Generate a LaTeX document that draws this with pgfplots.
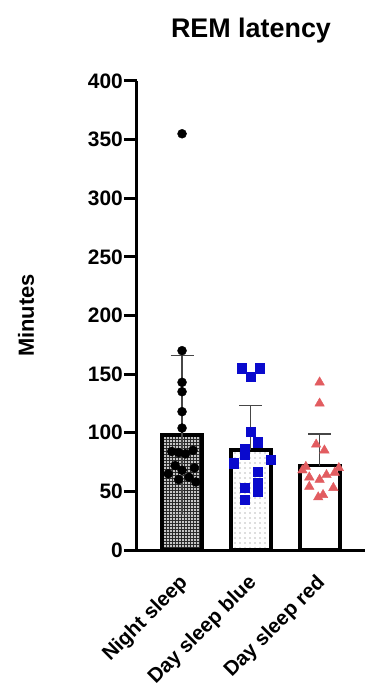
\documentclass[border=0pt]{standalone}
\usepackage{pgfplots}
\pgfplotsset{compat=1.18}
\usetikzlibrary{patterns.meta}
\usepackage{fontspec}
\setmainfont{Liberation Sans}

\definecolor{dotblue}{RGB}{10,10,205}
\definecolor{trired}{RGB}{226,92,96}
\definecolor{errgray}{RGB}{70,70,70}

% individual values per group (x offset gives the jitter around each bar)
\pgfplotstableread{
x y
0.00 355
0.00 170
0.00 143
0.00 135
0.00 118
0.00 104
-0.15 84
-0.05 83
0.05 82
0.16 85
-0.10 72
0.18 70
0.00 68
-0.20 65
0.10 62
-0.05 60
0.20 58
}\nightdata

\pgfplotstableread{
x y
0.87 155
1.13 155
1.00 148
1.00 101
1.10 92
0.91 86
0.91 81
0.75 74
1.29 77
1.10 67
1.10 57
0.91 53
1.10 50
0.91 43
}\bluedata

\pgfplotstableread{
x y
2.00 143
2.00 125
1.95 90
2.07 85
1.80 71
2.28 70
1.75 68
2.22 66
2.10 64
1.85 62
2.00 60
1.85 54
2.20 53
2.05 47
1.98 45
}\reddata

\begin{document}
\begin{tikzpicture}
% fixed page frame around the axis box
\path[use as bounding box] (-137bp,-143bp) rectangle (228bp,550bp);
\begin{axis}[
  at={(0,0)}, anchor=south west,
  scale only axis, width=228bp, height=469bp,
  xmin=-0.655, xmax=2.66, ymin=0, ymax=400,
  axis lines=left,
  axis line style={line width=3bp, -},
  clip=false,
  ytick={0,50,...,400},
  xtick={0,1,2},
  xticklabels={Night sleep, Day sleep blue, Day sleep red},
  tick align=outside,
  y tick style={line width=3bp, black},
  major tick length=13bp,
  x tick style={draw=none},
  /pgf/number format/assume math mode=true,
  tick label style={font=\fontsize{21}{24}\selectfont\bfseries},
  yticklabel style={inner sep=1bp},
  x tick label style={rotate=45, anchor=north east, inner sep=1bp,
    yshift=-3bp, xshift=-9bp, font=\fontsize{20.5}{24}\selectfont\bfseries},
  title={REM latency},
  title style={font=\fontsize{27}{30}\selectfont\bfseries,
    at={(axis description cs:0.5,1.094)}, anchor=center},
  ylabel={Minutes},
  ylabel style={font=\fontsize{22}{24}\selectfont\bfseries,
    at={(axis description cs:-0.487,0.5)}, anchor=center},
]
% bars (group means)
\addplot[ybar, bar width=40bp, bar shift=0pt, draw=black, line width=3.8bp,
  fill=black!85,
  postaction={pattern={Dots[radius=1.2bp, distance=3bp]}, pattern color=white}]
  coordinates {(0,98)};
\addplot[ybar, bar width=40bp, bar shift=0pt, draw=black, line width=3.8bp,
  fill=white,
  postaction={pattern={Dots[radius=0.7bp, distance=5bp]}, pattern color=black!55}]
  coordinates {(1,85)};
\addplot[ybar, bar width=40bp, bar shift=0pt, draw=black, line width=3.8bp,
  fill=white]
  coordinates {(2,72)};

% SD error bars with caps
\addplot[draw=none, mark=none,
  error bars/.cd, y dir=both, y explicit, error mark=|,
  error bar style={line width=1.3bp, draw=errgray},
  error mark options={draw=errgray, line width=1.3bp, mark size=11.5bp}]
  coordinates {(0,98) +- (0,68)};
\addplot[draw=none, mark=none,
  error bars/.cd, y dir=plus, y explicit, error mark=|,
  error bar style={line width=1.3bp, draw=errgray},
  error mark options={draw=errgray, line width=1.3bp, mark size=11.5bp}]
  coordinates {(1,85) +- (0,38) (2,72) +- (0,27)};

% individual data points
\addplot[only marks, mark=*, mark size=4.5bp, black] table {\nightdata};
\addplot[only marks, mark=square*, mark size=4.6bp, dotblue] table {\bluedata};
\addplot[only marks, mark=triangle*, mark size=5.5bp, trired] table {\reddata};
\end{axis}
\end{tikzpicture}
\end{document}
